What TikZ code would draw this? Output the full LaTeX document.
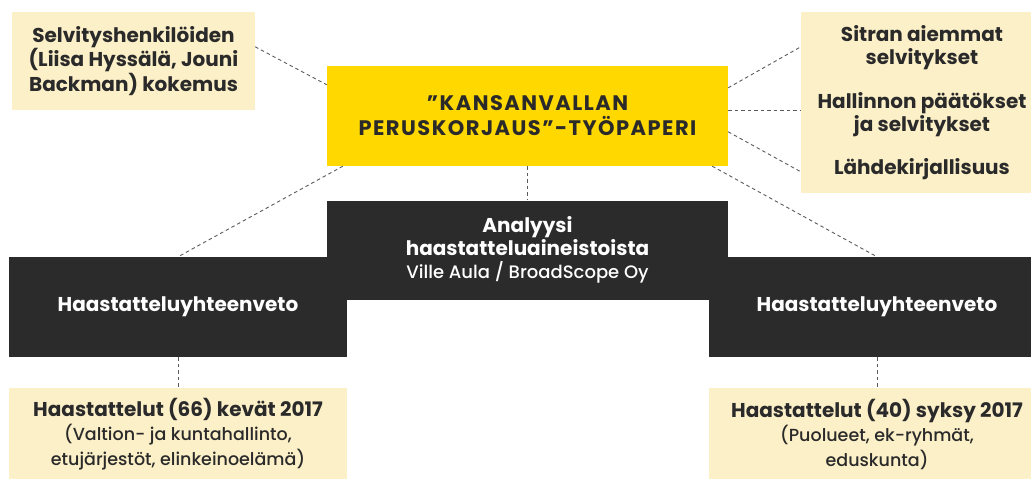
\documentclass[tikz,border=0pt]{standalone}
\usepackage{fontspec}
\setmainfont{Poppins}
\newfontfamily\medfont{Poppins Medium}
\usetikzlibrary{calc}
\definecolor{paleyellow}{HTML}{FCF0C8}
\definecolor{brightyellow}{HTML}{FFD800}
\definecolor{darkbox}{HTML}{2B2B2B}
\definecolor{inktext}{HTML}{2A2A2A}
\definecolor{dashgray}{HTML}{5A5A5A}
\newcommand\plainline[1]{{\medfont\mdseries\fontsize{17.5}{23}\selectfont #1}}
\begin{document}
\begin{tikzpicture}[x=1pt,y=-1pt,
  box/.style={rectangle, inner sep=0pt, align=center,
    font=\bfseries\fontsize{20}{24.5}\selectfont},
  source/.style={box, fill=paleyellow, text=inktext},
  dark/.style={box, fill=darkbox, text=white},
  link/.style={draw=dashgray, line width=0.9pt, dash pattern=on 3.5pt off 3pt}]
\useasboundingbox (0,0) rectangle (1031,479);
\clip (0,0) rectangle (1031,479);

% background material
\node[source, minimum width=243pt, minimum height=98pt] (exp) at (133.5,61)
  {Selvityshenkilöiden\\(Liisa Hyssälä, Jouni\\Backman) kokemus};
\node[source, minimum width=242pt, minimum height=181pt, font=\bfseries\fontsize{20}{23.5}\selectfont] (lit) at (922,102.5)
  {Sitran aiemmat\\selvitykset\\[20pt]Hallinnon päätökset\\ja selvitykset\\[19pt]Lähdekirjallisuus};

% working paper
\node[box, fill=brightyellow, text=inktext, minimum width=401pt, minimum height=100pt,
  font=\bfseries\addfontfeatures{LetterSpace=7}\fontsize{21}{25}\selectfont] (paper) at (527.5,116)
  {"KANSANVALLAN\\PERUSKORJAUS"-TYÖPAPERI};

% analysis and summaries
\node[dark, minimum width=401pt, minimum height=99pt, font=\bfseries\fontsize{20}{23}\selectfont] (anal) at (527.5,250)
  {Analyysi\\haastatteluaineistoista\\{\medfont\mdseries\fontsize{18}{23}\selectfont Ville Aula / BroadScope Oy}};
\node[dark, minimum width=338pt, minimum height=100pt] (sumL) at (178,307) {Haastatteluyhteenveto};
\node[dark, minimum width=336pt, minimum height=100pt] (sumR) at (877,307) {Haastatteluyhteenveto};

% interviews
\node[source, minimum width=338pt, minimum height=92pt] (intL) at (178,434)
  {Haastattelut (66) kevät 2017\\\plainline{(Valtion- ja kuntahallinto,}\\\plainline{etujärjestöt, elinkeinoelämä)}};
\node[source, minimum width=336pt, minimum height=92pt] (intR) at (877,434)
  {Haastattelut (40) syksy 2017\\\plainline{(Puolueet, ek-ryhmät,}\\\plainline{eduskunta)}};

% connectors
\draw[link] ($(exp.north east)+(0,35)$) -- ($(paper.north west)+(0,19)$);
\draw[link] ($(paper.north east)+(0,22)$) -- ($(lit.north west)+(0,35)$);
\draw[link] ($(paper.north east)+(0,45)$) -- ($(lit.north west)+(0,99)$);
\draw[link] ($(paper.north east)+(0,66)$) -- ($(lit.north west)+(0,160)$);
\draw[link] ($(paper.south west)+(16,0)$) -- (sumL.north);
\draw[link] (paper.south) -- (anal.north);
\draw[link] ($(paper.south east)+(-16,0)$) -- (sumR.north);
\draw[link] (sumL.south) -- (intL.north);
\draw[link] (sumR.south) -- (intR.north);
\end{tikzpicture}
\end{document}
